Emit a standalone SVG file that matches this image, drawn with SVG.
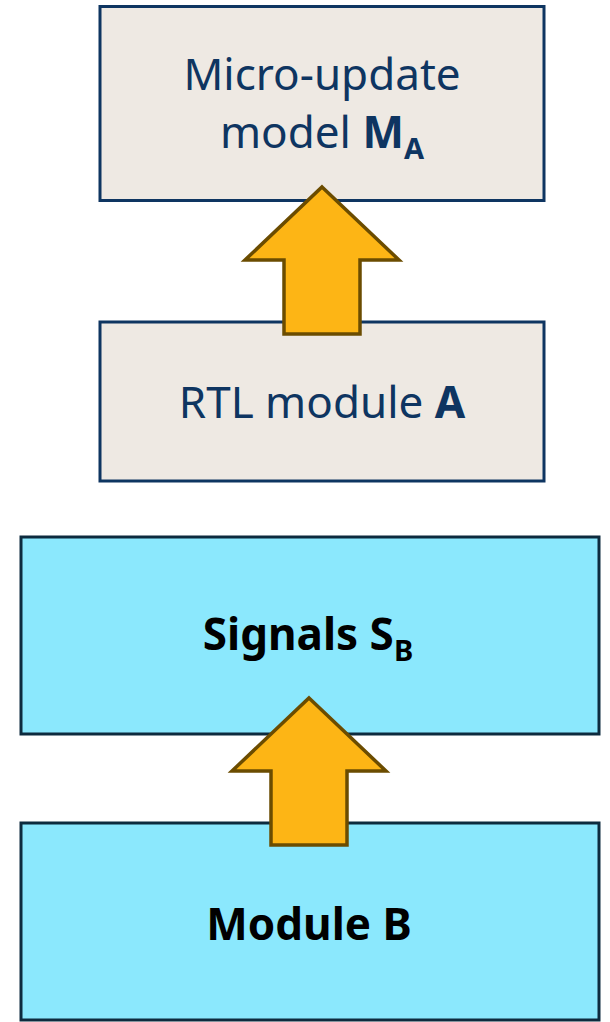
<svg xmlns="http://www.w3.org/2000/svg" width="610" height="1022" viewBox="0 0 610 1022">
<style>
.beige{fill:#EEE9E3;stroke:#0E3561;stroke-width:3}
.cyan{fill:#8BE8FD;stroke:#0D2B3E;stroke-width:3}
.arrow{fill:#FDB515;stroke:#6B4C00;stroke-width:3.5;stroke-linejoin:miter}
.t{font-family:"Noto Sans","Open Sans",sans-serif;font-size:44px;text-anchor:middle}
.navy{fill:#0E3561}
.blk{fill:#000;font-weight:bold}
.b{font-weight:bold}
.sub{font-size:29px;font-weight:bold}
</style>
<rect width="610" height="1022" fill="#fff"/>
<g id="node-ma">
<rect class="beige" x="100" y="6.5" width="444" height="194"/>
<text class="t navy" x="322" y="90">Micro-update</text>
<text class="t navy" x="322" y="148">model <tspan class="b">M</tspan><tspan class="sub" dy="11">A</tspan></text>
</g>
<g id="node-rtla">
<rect class="beige" x="100" y="322" width="444" height="159"/>
<text class="t navy" x="322" y="418">RTL module <tspan class="b">A</tspan></text>
</g>
<g id="node-sb">
<rect class="cyan" x="21" y="537" width="578" height="197"/>
<text class="t blk" x="308" y="650">Signals S<tspan class="sub" dy="11">B</tspan></text>
</g>
<g id="node-b">
<rect class="cyan" x="21" y="823" width="578" height="197"/>
<text class="t blk" x="309" y="940">Module B</text>
</g>
<g id="connectors">
<polygon class="arrow" points="322,187 399,260 360,260 360,334 284,334 284,260 245,260"/>
<polygon class="arrow" points="309,698 386,771 347,771 347,845 271,845 271,771 232,771"/>
</g>
</svg>
